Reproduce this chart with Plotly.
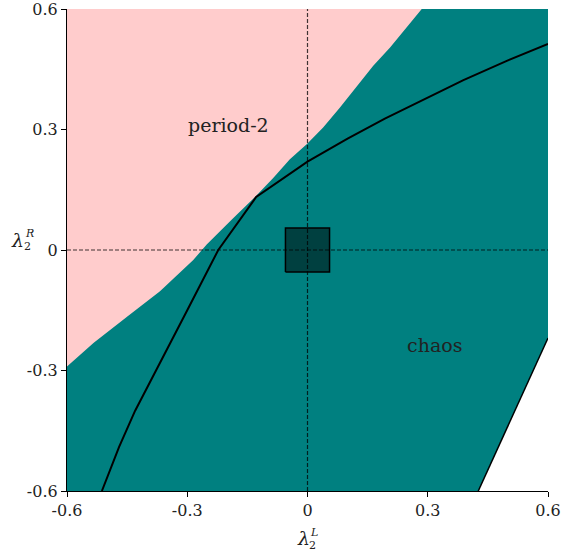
import plotly.graph_objects as go

# Pink (period-2) / teal (chaos) boundary
p2_x = [-0.6, -0.534, -0.451, -0.368, -0.285, -0.2515, -0.19, -0.128, -0.085, -0.044, -0.002, 0.039, 0.081, 0.123, 0.164, 0.206, 0.285]
p2_y = [-0.29, -0.2315, -0.167, -0.103, -0.025, 0.014, 0.075, 0.135, 0.18, 0.226, 0.263, 0.305, 0.355, 0.409, 0.459, 0.504, 0.6]

# Black bifurcation curve
curve_x = [-0.513, -0.47, -0.43, -0.389, -0.35, -0.30, -0.2226, -0.128, 0.0, 0.1, 0.193, 0.306, 0.389, 0.5, 0.6]
curve_y = [-0.6, -0.49, -0.40, -0.32, -0.245, -0.15, 0.0, 0.132, 0.22, 0.277, 0.327, 0.382, 0.423, 0.472, 0.513]

# White region edge (lower right)
edge_x = [0.426, 0.513, 0.6]
edge_y = [-0.6, -0.41, -0.219]

# Small square around the origin
sq_x0, sq_x1 = -0.055, 0.055
sq_y0, sq_y1 = -0.055, 0.055

ticks = [-0.6, -0.3, 0.0, 0.3, 0.6]
tick_text = ["-0.6", "-0.3", "0", "0.3", "0.6"]

PINK = "rgb(255,204,204)"
TEAL = "rgb(0,128,128)"
FONT = "DejaVu Serif"

fig = go.Figure()

# pink region
fig.add_trace(go.Scatter(
    x=p2_x + [-0.6], y=p2_y + [0.6], mode="lines", fill="toself",
    fillcolor=PINK, line=dict(width=0), hoverinfo="skip", showlegend=False))

# white region
fig.add_trace(go.Scatter(
    x=edge_x + [0.6], y=edge_y + [-0.6], mode="lines", fill="toself",
    fillcolor="white", line=dict(width=0), hoverinfo="skip", showlegend=False))
fig.add_trace(go.Scatter(
    x=edge_x, y=edge_y, mode="lines", line=dict(color="black", width=1.5),
    hoverinfo="skip", showlegend=False))

# square
fig.add_trace(go.Scatter(
    x=[sq_x0, sq_x1, sq_x1, sq_x0, sq_x0], y=[sq_y0, sq_y0, sq_y1, sq_y1, sq_y0],
    mode="lines", fill="toself", fillcolor="rgb(0,64,64)",
    line=dict(color="black", width=1.5), hoverinfo="skip", showlegend=False))

# black curve
fig.add_trace(go.Scatter(
    x=curve_x, y=curve_y, mode="lines", line=dict(color="black", width=2),
    hoverinfo="skip", showlegend=False))

# dashed axes lines
fig.add_trace(go.Scatter(
    x=[0, 0], y=[-0.6, 0.6], mode="lines",
    line=dict(color="rgba(0,0,0,0.75)", width=1.2, dash="4px,2px"),
    hoverinfo="skip", showlegend=False))
fig.add_trace(go.Scatter(
    x=[-0.6, 0.6], y=[0, 0], mode="lines",
    line=dict(color="rgba(0,0,0,0.75)", width=1.2, dash="4px,2px"),
    hoverinfo="skip", showlegend=False))

axis_common = dict(
    range=[-0.6, 0.6], tickmode="array", tickvals=ticks, ticktext=tick_text,
    showgrid=False, zeroline=False, showline=True, linecolor="black", linewidth=1.2,
    ticks="outside", ticklen=5, tickwidth=1, tickcolor="black",
    ticklabeloverflow="allow", automargin=False,
    tickfont=dict(family=FONT, size=16, color="#222"),
)

fig.update_layout(
    width=561, height=552, autosize=False,
    margin=dict(l=67, r=13, t=9, b=61),
    paper_bgcolor="white", plot_bgcolor=TEAL,
    xaxis=dict(**axis_common),
    yaxis=dict(**axis_common),
    showlegend=False,
    font=dict(family=FONT),
)

def pa(text, px, py, size):
    fig.add_annotation(text=text, xref="paper", yref="paper",
                       x=(px - 67) / 481, y=(491 - py) / 482,
                       showarrow=False, font=dict(family=FONT, size=size, color="#222"),
                       xanchor="center", yanchor="middle")

# region labels
fig.add_annotation(text="period-2", x=-0.198, y=0.31, showarrow=False,
                   font=dict(family=FONT, size=19, color="#222"))
fig.add_annotation(text="chaos", x=0.318, y=-0.236, showarrow=False,
                   font=dict(family=FONT, size=19, color="#222"))

# axis labels  λ_2^L  and  λ_2^R
pa("<i>λ</i>", 303, 538, 19)
pa("<i>L</i>", 314, 532, 11)
pa("2", 312, 545, 11)

pa("<i>λ</i>", 17, 240, 19)
pa("<i>R</i>", 29, 233, 11)
pa("2", 27, 246, 11)

fig.write_html("out.html",
               config={"responsive": False, "displayModeBar": False},
               post_script="document.body.style.margin='0';document.body.style.overflow='hidden';")
